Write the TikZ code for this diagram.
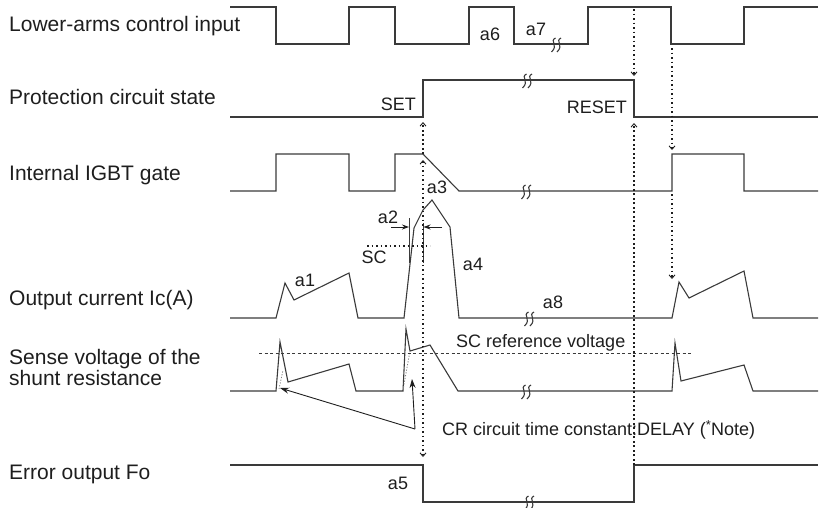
\documentclass[tikz,border=0pt]{standalone}
\usepackage{fontspec}
\setmainfont{Liberation Sans}
\usetikzlibrary{arrows.meta}
\definecolor{ln}{HTML}{3A3A3A}
\definecolor{tx}{HTML}{1E1E1E}
\begin{document}
\begin{tikzpicture}[x=1pt,y=-1pt,
  wave/.style={draw=ln,line width=1.1pt,line join=miter},
  lbl/.style={text=tx,font=\fontsize{21}{21}\selectfont,inner sep=0pt,anchor=base west,align=left},
  tag/.style={text=tx,font=\fontsize{18}{18}\selectfont,inner sep=0pt,anchor=base},
  dline/.style={draw=tx,line width=1.6pt,dash pattern=on 1.7pt off 2.8pt},
  dtip/.style={-{Straight Barb[length=3.5pt,width=6pt,line width=0.9pt]}},
  dtips/.style={{Straight Barb[length=3.5pt,width=6pt,line width=0.9pt]}-{Straight Barb[length=3.5pt,width=6pt,line width=0.9pt]}},
  sarrow/.style={draw=tx,line width=0.9pt,-{Stealth[length=9pt,width=6pt]}},
  pics/brk/.style={code={
    \draw[ln,line width=1.1pt] (0.5,-7) .. controls (-6,-4) and (4,0) .. (-3.5,7);
    \draw[ln,line width=1.1pt] (6,-7) .. controls (-0.5,-4) and (9.5,0) .. (2,7);
  }}]
\useasboundingbox (0,0) rectangle (819,507);

% left labels
\node[lbl] (l1) at (9,31) {Lower-arms control input};
\node[lbl] (l2) at (9,104) {Protection circuit state};
\node[lbl] (l3) at (9,180) {Internal IGBT gate};
\node[lbl] (l4) at (9,305) {Output current Ic(A)};
\node[lbl] (l5a) at (9,364) {Sense voltage of the};
\node[lbl] (l5b) at (9,385) {shunt resistance};
\node[lbl] (l6) at (9,479) {Error output Fo};

% waveforms
\draw[wave] (230,7) -- (276,7) -- (276,44) -- (349,44) -- (349,7) -- (395,7) -- (395,44) -- (469,44) -- (469,7) -- (514,7) -- (514,44) -- (588,44) -- (588,7) -- (671,7) -- (671,44) -- (744,44) -- (744,7) -- (818,7);
\draw[wave] (230,117) -- (423,117) -- (423,80) -- (634,80) -- (634,117) -- (818,117);
\draw[wave] (230,191) -- (276,191) -- (276,154) -- (349,154) -- (349,191) -- (395,191) -- (395,154) -- (423,154) -- (459,191) -- (672,191) -- (672,154) -- (744,154) -- (744,191) -- (818,191);
\draw[wave] (230,318) -- (276,318) -- (285,283) -- (294,300) -- (349,273) -- (358,318) -- (404,318) -- (414,228) -- (423,210) -- (432,200) -- (450,227) -- (459,318) -- (672,318) -- (679,282) -- (689,298) -- (744,271) -- (753,318) -- (818,318);
\draw[wave] (230,391) -- (276,391) -- (280,342) -- (288,382) -- (349,364) -- (356,391) -- (403,391) -- (406,329) -- (410,351) -- (430,345) -- (458,391) -- (672,391) -- (675,343) -- (681,381) -- (744,365) -- (753,391) -- (818,391);
\draw[wave] (230,465) -- (423,465) -- (423,502) -- (634,502) -- (634,465) -- (818,465);

% CR delay curves
\draw[gray,line width=0.8pt,dash pattern=on 1.2pt off 1.6pt] (279,389) -- (283,370);
\draw[gray,line width=0.8pt,dash pattern=on 1.2pt off 1.6pt] (403,390) -- (410,351);

% breaks
\pic at (555,45) {brk};
\pic at (526,81) {brk};
\pic at (525,192) {brk};
\pic at (528,319) {brk};
\pic at (525,392) {brk};
\pic at (528,503) {brk};

% SC reference line
\draw[ln,line width=0.7pt,dash pattern=on 3pt off 2.5pt] (259,353) -- (693,353);
% SC level in current
\draw[dline] (367,246) -- (430,246);

% a2 markers
\draw[ln,line width=1pt] (409,218) -- (409,263);
\draw[ln,line width=1pt] (423,223) -- (423,263);
\coordinate (a2l) at (391,227);
\coordinate (a2lt) at (409,227);
\coordinate (a2r) at (442,227);
\coordinate (a2rt) at (423.5,227);
\draw[draw=tx,line width=0.9pt,-{Stealth[length=7pt,width=5pt]}] (a2l) -- (a2lt);
\draw[draw=tx,line width=0.9pt,-{Stealth[length=7pt,width=5pt]}] (a2r) -- (a2rt);

% dotted timing lines
\coordinate (s0) at (423,154);
\coordinate (s1) at (423,122);
\coordinate (s2) at (423,160);
\coordinate (s3) at (423,457);
\draw[dline,dtip] (s0) -- (s1);
\draw[dline,dtips] (s2) -- (s3);

\coordinate (r0) at (634,9);
\coordinate (r1) at (634,76);
\coordinate (r2) at (634,465);
\coordinate (r3) at (634,123);
\draw[dline,dtip] (r0) -- (r1);
\draw[dline,dtip] (r2) -- (r3);

\coordinate (g0) at (672,48);
\coordinate (g1) at (672,150);
\coordinate (g2) at (672,194);
\coordinate (g3) at (672,279);
\draw[dline,dtip] (g0) -- (g1);
\draw[dline,dtip] (g2) -- (g3);

% CR arrows
\coordinate (cr) at (415,429);
\coordinate (cr1) at (280,388);
\coordinate (cr2) at (412,379);
\draw[sarrow] (cr) -- (cr1);
\draw[sarrow] (cr) -- (cr2);

% tags
\node[tag] (ta6) at (490,40) {a6};
\node[tag] (ta7) at (536,35) {a7};
\node[tag,anchor=base east] (tset) at (416,110) {SET};
\node[tag,anchor=base east] (treset) at (627,113) {RESET};
\node[tag] (ta1) at (305,286) {a1};
\node[tag] (ta2) at (388,223) {a2};
\node[tag] (ta3) at (437,193) {a3};
\node[tag] (ta4) at (473,270) {a4};
\node[tag] (tsc) at (374,263) {SC};
\node[tag] (ta8) at (553,308) {a8};
\node[tag] (ta5) at (398,489) {a5};
\node[tag,anchor=base west] (tscr) at (456,347) {SC reference voltage};
\node[tag,anchor=base west] (tcr) at (442,435) {CR circuit time constant:DELAY (\raisebox{6pt}{\fontsize{13}{13}\selectfont *}Note)};
\end{tikzpicture}
\end{document}
